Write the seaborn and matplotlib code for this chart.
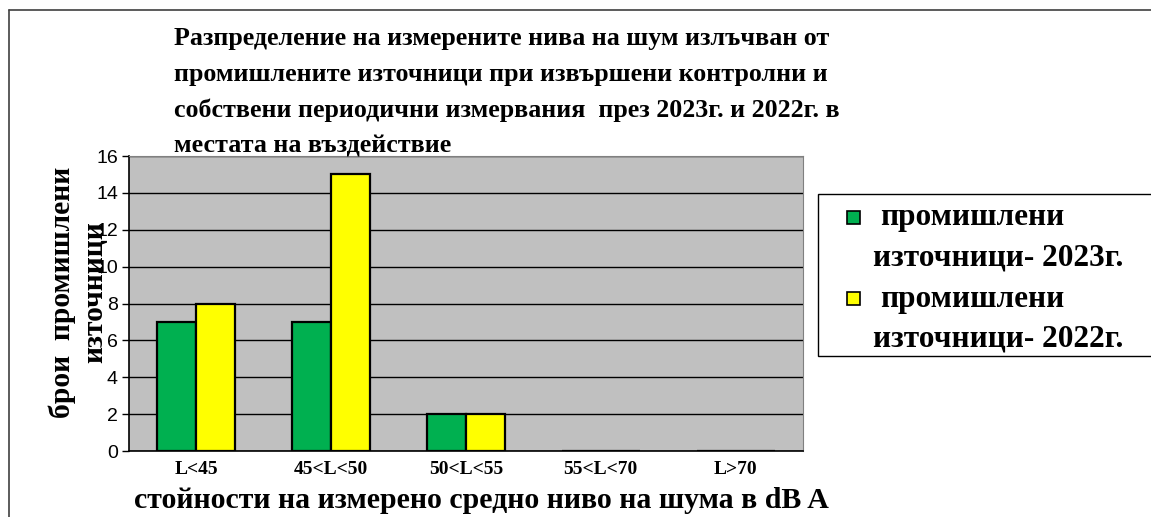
import numpy as np
import pandas as pd
import matplotlib.pyplot as plt
import matplotlib.patches as mpatches
import seaborn as sns

categories = ["L<45", "45<L<50", "50<L<55", "55<L<70", "L>70"]
series_names = ["промишлени\nизточници- 2023г.", "промишлени\nизточници- 2022г."]
values_2023 = [7, 7, 2, 0, 0]
values_2022 = [8, 15, 2, 0, 0]
colors = ["#00B050", "#FFFF00"]

title_lines = ["Разпределение на измерените нива на шум излъчван от",
               "промишлените източници при извършени контролни и",
               "собствени периодични измервания  през 2023г. и 2022г. в",
               "местата на въздействие"]
xlabel = "стойности на измерено средно ниво на шума в dB A"
ylabel_lines = ["брои  промишлени", "източници"]

df = pd.DataFrame({
    "cat": categories * 2,
    "series": [series_names[0]] * 5 + [series_names[1]] * 5,
    "value": values_2023 + values_2022,
})

sns.set_style("white")
plt.rcParams["text.color"] = "black"
plt.rcParams["xtick.color"] = "black"
plt.rcParams["ytick.color"] = "black"
serif = ["Liberation Serif", "DejaVu Serif"]
sans = ["Liberation Sans", "DejaVu Sans"]

W, H = 1151, 517
fig = plt.figure(figsize=(W / 100, H / 100), dpi=100)
ax = fig.add_axes([129 / W, 1 - 451 / H, (803 - 129) / W, (451 - 156) / H])

sns.barplot(data=df, x="cat", y="value", hue="series", order=categories,
            hue_order=series_names, palette=colors, width=0.58,
            edgecolor="black", linewidth=1.6, saturation=1, legend=False, ax=ax)

ax.set_facecolor("#C0C0C0")
ax.set_ylim(0, 16)
ax.set_xlim(-0.5, 4.5)
ax.set_yticks(np.arange(0, 17, 2))
ax.yaxis.grid(True, color="black", lw=1)
ax.set_axisbelow(True)
ax.set_xlabel("")
ax.set_ylabel("")
for s in ["top", "right"]:
    ax.spines[s].set_color("#808080")
for s in ["left", "bottom"]:
    ax.spines[s].set_color("black")
    ax.spines[s].set_linewidth(1.2)

ax.set_xticks(np.arange(-0.5, 5, 1), minor=True)
ax.tick_params(axis="x", which="major", length=0, pad=7)
ax.tick_params(axis="x", which="minor", length=5, width=1, color="black", direction="out")
ax.tick_params(axis="y", length=5, width=1, color="black", direction="out", left=True,
               labelsize=14, pad=3)
for lab in ax.get_yticklabels():
    lab.set_family(sans)
for lab in ax.get_xticklabels():
    lab.set_family(serif)
    lab.set_fontweight("bold")
    lab.set_fontsize(14)

# outer chart border
fig.add_artist(plt.Line2D([9 / W, 9 / W], [0, 1 - 10 / H], transform=fig.transFigure,
                          color="#404040", lw=1.2))
fig.add_artist(plt.Line2D([9 / W, 1], [1 - 10 / H, 1 - 10 / H], transform=fig.transFigure,
                          color="#404040", lw=1.2))

for i, line in enumerate(title_lines):
    fig.text(174 / W, 1 - (38 + i * 36) / H, line, ha="left", va="center", family=serif,
             fontweight="bold", fontsize=18.7)
fig.text(481 / W, 1 - 501 / H, xlabel, ha="center", va="center", family=serif,
         fontweight="bold", fontsize=21.5)
for i, line in enumerate(ylabel_lines):
    fig.text((62 + i * 33) / W, 1 - 292 / H, line, ha="center", va="center", rotation=90,
             family=serif, fontweight="bold", fontsize=21.3)

# legend box
fig.add_artist(mpatches.Rectangle((818 / W, 1 - 356 / H), (W - 818 + 5) / W, 162 / H,
                                  transform=fig.transFigure, facecolor="white",
                                  edgecolor="black", lw=1))
for i, (name, col) in enumerate(zip(series_names, colors)):
    ytop = 218 + i * 81
    fig.add_artist(mpatches.Rectangle((847 / W, 1 - (ytop + 6) / H), 13 / W, 13 / H,
                                      transform=fig.transFigure, facecolor=col,
                                      edgecolor="black", lw=1.2))
    first, second = name.split("\n")
    fig.text(880 / W, 1 - ytop / H, first, ha="left", va="center", family=serif,
             fontweight="bold", fontsize=22.5)
    fig.text(873 / W, 1 - (ytop + 40) / H, second, ha="left", va="center", family=serif,
             fontweight="bold", fontsize=22.5)

fig.savefig("out.png", dpi=100)
